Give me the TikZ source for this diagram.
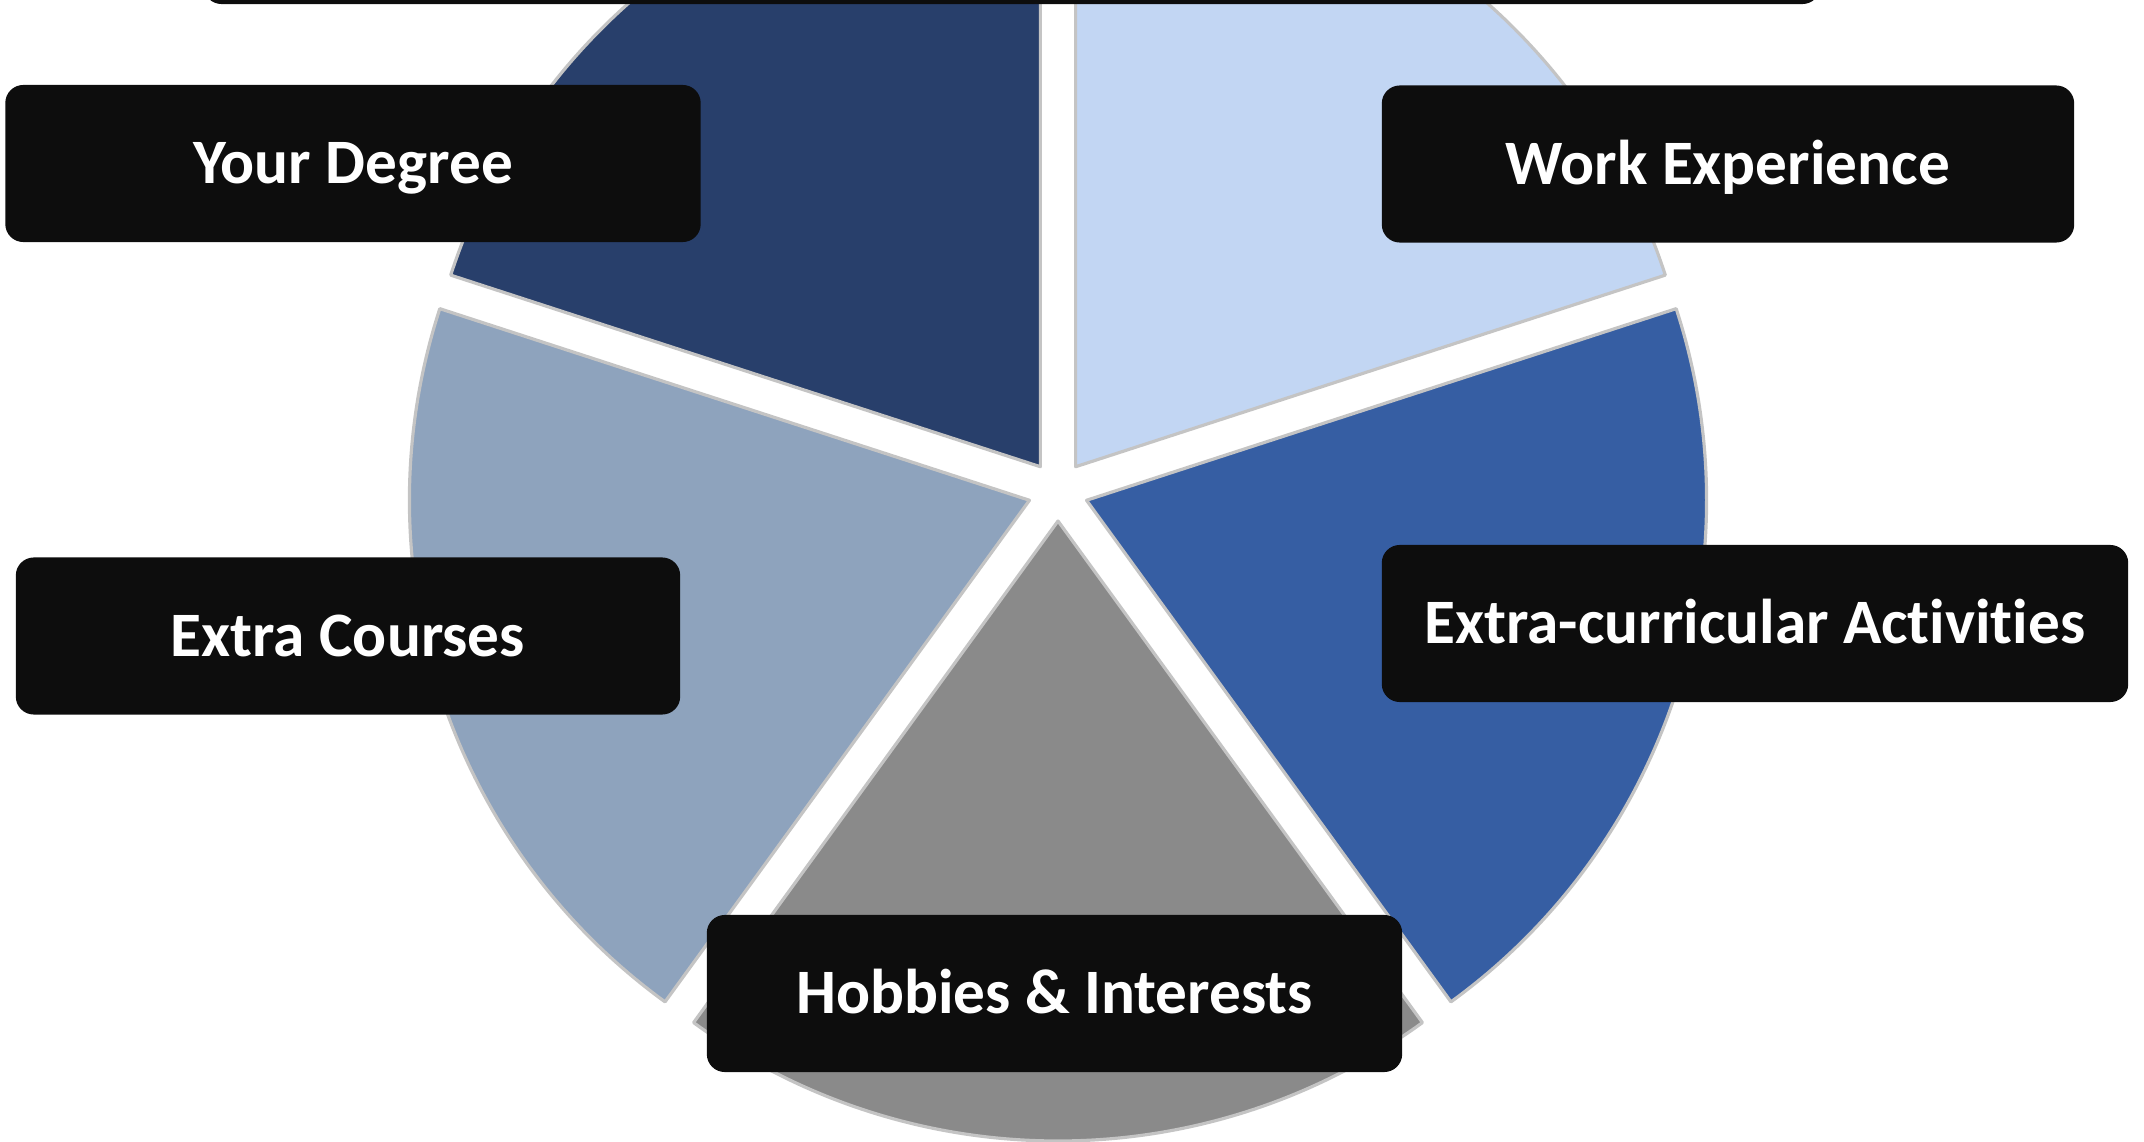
\documentclass[tikz,border=0pt]{standalone}
\usepackage{fontspec}
\setmainfont{Carlito}[Ligatures={NoCommon,NoRare,NoContextual}]
\usepackage{tikz}
\usetikzlibrary{calc}

\definecolor{degreeblue}{HTML}{283F6B}
\definecolor{workblue}{HTML}{C2D6F3}
\definecolor{activblue}{HTML}{365EA3}
\definecolor{hobbygray}{HTML}{8A8A8A}
\definecolor{coursesblue}{HTML}{8EA3BD}
\definecolor{boxblack}{HTML}{0D0D0D}
\definecolor{slicerim}{HTML}{C4C4C4}

\tikzset{
  slice/.style={fill=#1, draw=slicerim, line width=0.9pt, line join=round},
  label box/.style={fill=boxblack, rounded corners=0.18cm, text=white,
    font=\fontsize{18}{22}\selectfont\bfseries, inner sep=0pt,
    text height=11.4pt, text depth=0pt,
    minimum width=#1, minimum height=1.57cm},
}

\begin{document}
\begin{tikzpicture}[x=0.01cm, y=0.01cm]
\useasboundingbox (0,0) rectangle (2144,1141);

\coordinate (c) at (1058,650);

%% pie slices, each pushed out along its middle
\draw[slice=degreeblue] ($(c)+(126:30)$) -- ++(90:620) arc (90:162:620) -- cycle;
\draw[slice=workblue] ($(c)+(54:30)$) -- ++(18:620) arc (18:90:620) -- cycle;
\draw[slice=activblue] ($(c)+(-18:30)$) -- ++(-54:620) arc (-54:18:620) -- cycle;
\draw[slice=hobbygray] ($(c)+(-90:30)$) -- ++(-126:620) arc (-126:-54:620) -- cycle;
\draw[slice=coursesblue] ($(c)+(198:30)$) -- ++(162:620) arc (162:234:620) -- cycle;

%% label boxes
\node[label box=16.16cm] (topbar) at (1012,1215.5) {};
\node[label box=6.95cm] (degree) at (353,977.5) {Your Degree};
\node[label box=6.92cm] (work) at (1728,977) {Work Experience};
\node[label box=6.64cm] (courses) at (348,505) {Extra Courses};
\node[label box=7.46cm] (activities) at (1755,517.5) {Extra-curricular Act\kern0pt ivit\kern0pt ies};
\node[label box=6.95cm] (hobbies) at (1054.5,147.5) {Hobbies \& Interests};

\end{tikzpicture}
\end{document}
